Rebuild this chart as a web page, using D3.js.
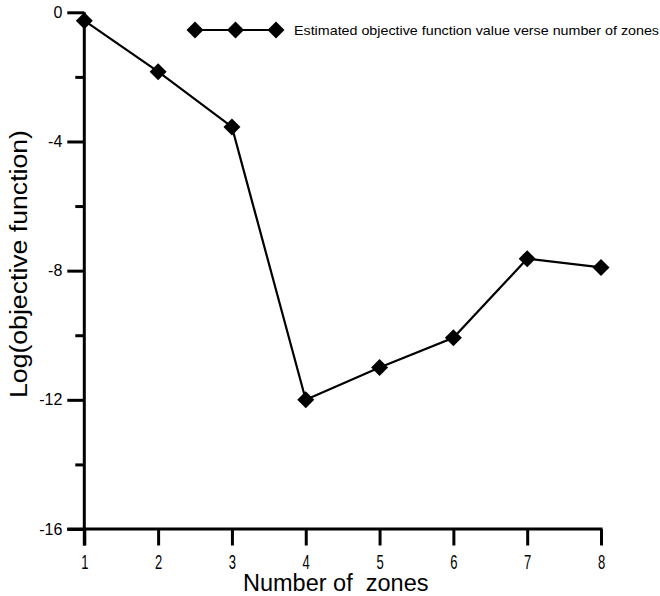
<!doctype html>
<html lang="en">
<head>
    <meta charset="utf-8" />
    <title>Objective function vs zones</title>
    <script src="https://d3js.org/d3.v7.min.js"></script>
    <style>
        body { margin: 0; background: #fff; }
        text { font-family: Arial, "Liberation Sans", sans-serif; fill: #000; }
    </style>
</head>
<body>
    <div id="chart"></div>
    <script>
        // data
        const zones = [1, 2, 3, 4, 5, 6, 7, 8];
        const logObjective = [-0.26, -1.84, -3.55, -12.0, -11.0, -10.08, -7.63, -7.9];
        const yMajorTicks = [0, -4, -8, -12, -16];
        const yMinorTicks = [-2, -6, -10, -14];
        const legendLabel = "Estimated objective function value verse number of zones";

        const width = 660, height = 596;

        const svg = d3.select("#chart").append("svg")
            .attr("width", width)
            .attr("height", height);

        const x = d3.scaleLinear().domain([1, 8]).range([84.3, 601]);
        const y = d3.scaleLinear().domain([-16, 0]).range([529, 12.3]);

        // plain hyphen for negatives, like the original
        const fmt = d => String(d);

        // y axis
        const yAxis = svg.append("g")
            .attr("transform", `translate(${x(1)},0)`)
            .call(d3.axisLeft(y).tickValues(yMajorTicks).tickSize(17).tickPadding(5).tickFormat(fmt));
        yAxis.select(".domain").remove();
        yAxis.selectAll(".tick line").attr("stroke-width", 3);
        yAxis.selectAll(".tick text")
            .style("font-size", "16px")
            .attr("font-family", null);

        const yMinor = svg.append("g")
            .attr("transform", `translate(${x(1)},0)`)
            .call(d3.axisLeft(y).tickValues(yMinorTicks).tickSize(9).tickFormat(""));
        yMinor.select(".domain").remove();
        yMinor.selectAll(".tick line").attr("stroke-width", 3);

        // x axis
        const xAxis = svg.append("g")
            .attr("transform", `translate(0,${y(-16)})`)
            .call(d3.axisBottom(x).tickValues(zones).tickSize(16.5).tickFormat(fmt));
        xAxis.select(".domain").remove();
        xAxis.selectAll(".tick line").attr("stroke-width", 3);
        xAxis.selectAll(".tick text")
            .attr("y", 40.5)
            .attr("dy", 0)
            .attr("font-family", null)
            .attr("transform", "scale(0.62,1)")
            .style("font-size", "21px");

        // axis lines
        svg.append("line")
            .attr("x1", x(1)).attr("x2", x(1))
            .attr("y1", y(0)).attr("y2", y(-16) + 16.5)
            .attr("stroke", "#000").attr("stroke-width", 3);
        svg.append("line")
            .attr("x1", x(1) - 17).attr("x2", x(8) + 1.5)
            .attr("y1", y(-16)).attr("y2", y(-16))
            .attr("stroke", "#000").attr("stroke-width", 3);

        // series line
        const pts = zones.map((z, i) => [z, logObjective[i]]);
        svg.append("path")
            .datum(pts)
            .attr("fill", "none")
            .attr("stroke", "#000")
            .attr("stroke-width", 2.2)
            .attr("d", d3.line().x(d => x(d[0])).y(d => y(d[1])));

        const diamond = d3.symbol(d3.symbolSquare, 144);
        svg.append("g").selectAll("path")
            .data(pts)
            .join("path")
            .attr("d", diamond)
            .attr("transform", d => `translate(${x(d[0])},${y(d[1])}) rotate(45)`)
            .attr("fill", "#000");

        // legend
        const legend = svg.append("g");
        legend.append("line")
            .attr("x1", 195).attr("x2", 276)
            .attr("y1", 30).attr("y2", 30)
            .attr("stroke", "#000").attr("stroke-width", 2.2);
        legend.selectAll("path")
            .data([195, 235.5, 276])
            .join("path")
            .attr("d", diamond)
            .attr("transform", d => `translate(${d},30) rotate(45)`)
            .attr("fill", "#000");
        legend.append("text")
            .attr("x", 294)
            .attr("y", 34.5)
            .attr("textLength", 365)
            .attr("lengthAdjust", "spacingAndGlyphs")
            .style("font-size", "13px")
            .text(legendLabel);

        // axis titles
        svg.append("text")
            .attr("x", 243)
            .attr("y", 591)
            .style("font-size", "23.5px")
            .style("white-space", "pre")
            .text("Number of  zones");

        svg.append("text")
            .attr("transform", "translate(27,264) rotate(-90)")
            .attr("text-anchor", "middle")
            .attr("textLength", 268)
            .attr("lengthAdjust", "spacingAndGlyphs")
            .style("font-size", "23px")
            .text("Log(objective function)");
    </script>
</body>
</html>
